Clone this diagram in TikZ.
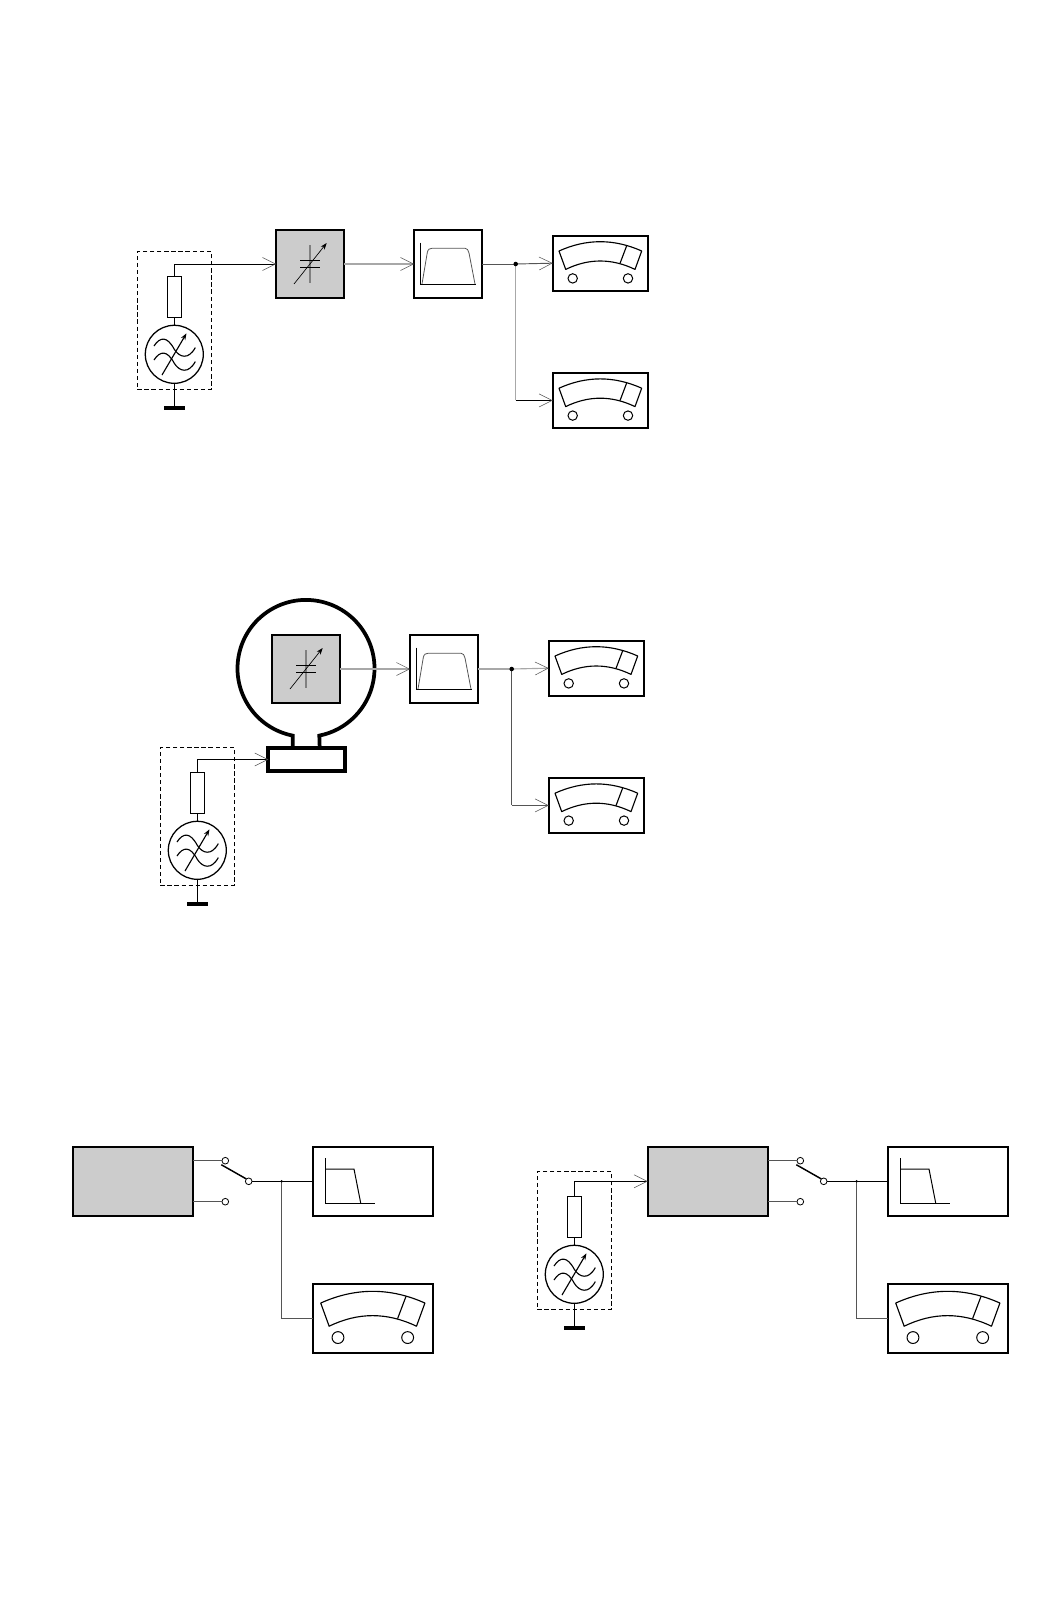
\documentclass[tikz,border=0pt]{standalone}
\usetikzlibrary{arrows.meta}
\definecolor{boxgray}{HTML}{CCCCCC}
\definecolor{lightwire}{HTML}{A8A8A8}
\definecolor{darkwire}{HTML}{555555}
\tikzset{
  wire/.style={line width=0.75pt,black},
  lwire/.style={line width=0.85pt,lightwire},
  dwire/.style={line width=0.7pt,darkwire},
  openarrow/.style={-{Straight Barb[length=9.75pt,width=9.75pt,line width=0.4pt,color=darkwire]}},
  heavybox/.style={draw,line width=1.4pt,inner sep=0pt,outer sep=0pt},
  symbol/.style={line width=0.85pt},
  symthin/.style={line width=0.6pt,darkwire},
  genbox/.style={draw,dashed,dash pattern=on 3.2pt off 2.1pt,line width=0.7pt,inner sep=0pt,outer sep=0pt,minimum width=55.5pt,minimum height=103.2pt},
  resbox/.style={draw,line width=0.7pt,inner sep=0pt,outer sep=0pt,minimum width=10pt,minimum height=30.8pt},
  gencirc/.style={draw,circle,line width=0.95pt,inner sep=0pt,outer sep=0pt,minimum size=43.5pt},
  groundbar/.style={fill=black,inner sep=0pt,outer sep=0pt,minimum width=15.8pt,minimum height=3pt},
  junction/.style={fill=black,circle,inner sep=0pt,outer sep=0pt,minimum size=3.4pt},
  tinyjunction/.style={fill=black,circle,inner sep=0pt,outer sep=0pt,minimum size=2pt},
  terminal/.style={draw,circle,fill=white,line width=0.6pt,inner sep=0pt,outer sep=0pt,minimum size=5pt},
  smalltip/.style={-{Stealth[length=5pt,width=3.6pt]}}
}
% source: #1 x of the wire, #2 y of the wire, #3 name
\newcommand\sourceunit[3]{
  \begin{scope}[shift={(#1,#2)}]
    \node[genbox] (#3frame) at (0,56.2) {};
    \node[resbox] (#3res) at (0,32.5) {};
    \node[gencirc] (#3gen) at (0,90) {};
    \node[groundbar] (#3gnd) at (0,144) {};
    \draw[wire] (#3res.south) -- (#3gen.north);
    \draw[wire] (#3gen.south) -- (#3gnd.north);
    \begin{scope}[shift={(0,90)}]
      \draw[symbol] (-20.3,-8.3) .. controls (-14,-18) and (-7,-18) .. (0,-5) .. controls (5,3) and (14,6) .. (21,-6.7);
      \draw[symbol] (-20.3,5.7) .. controls (-14,-4) and (-7,-4) .. (0,9) .. controls (5,17) and (14,20) .. (21,7.3);
      \draw[symbol,smalltip] (-12.3,20.7) -- (12.2,-21);
    \end{scope}
  \end{scope}
}
% varactor box: #1,#2 centre, #3 name
\newcommand\varbox[3]{
  \node[heavybox,fill=boxgray,minimum size=51pt] (#3) at (#1,#2) {};
  \begin{scope}[shift={(#1,#2)}]
    \draw[line width=0.8pt,color=gray] (0,-19) -- (0,18.7);
    \draw[line width=0.7pt] (-10,-3.7) -- (10,-3.7);
    \draw[line width=0.7pt] (-10,3.3) -- (10,3.3);
    \draw[line width=0.5pt,smalltip] (-16,20) -- (16.7,-21);
  \end{scope}
}
% band-pass box
\newcommand\bpbox[3]{
  \node[heavybox,minimum size=51pt] (#3) at (#1,#2) {};
  \begin{scope}[shift={(#1,#2)}]
    \draw[line width=0.75pt] (-27.3,-21.3) -- (-27.3,20.3) -- (27.7,20.3);
    \draw[symthin] (-26,20) -- (-20.7,-11.5) .. controls (-20,-15) and (-18,-15.7) .. (-16,-15.7) -- (17,-15.7) .. controls (19,-15.7) and (20.5,-14) .. (21,-11) -- (27,20);
  \end{scope}
}
% low-pass box
\newcommand\lpbox[3]{
  \node[heavybox,minimum width=90.5pt,minimum height=51.8pt] (#3) at (#1,#2) {};
  \begin{scope}[shift={(#1,#2)}]
    \draw[line width=0.75pt] (-47.3,-23) -- (-47.3,21.7) -- (2,21.7);
    \draw[line width=0.75pt] (-47.3,-12.3) -- (-19,-12.3) -- (-12.3,21.7);
  \end{scope}
}
% meter: #1,#2 centre, #3 scale, #4 name, #5 width pt, #6 height pt
\newcommand\meterbox[6]{
  \node[heavybox,minimum width=#5pt,minimum height=#6pt] (#4) at (#1,#2) {};
  \begin{scope}[shift={(#1,#2)},scale=#3]
    \begin{scope}[shift={(-47.8,-27.5)}]
      \draw[line width=0.85pt,line join=round] (6.3,15.3) .. controls (33.8,2.9) and (61.3,2.9) .. (89,15.3) -- (82.3,33.7) .. controls (59,22.5) and (36,22.5) .. (13,33.7) -- cycle;
      \draw[line width=0.85pt] (74,10) -- (67.3,27.7);
      \draw[line width=0.75pt] (20,42.7) circle (4.7);
      \draw[line width=0.75pt] (75.3,42.7) circle (4.7);
    \end{scope}
  \end{scope}
}
% switch: #1 x of box edge offset, #2 name
\newcommand\switchset[2]{
  \begin{scope}[xshift=#1*0.75pt]
    \node[heavybox,fill=boxgray,minimum width=90.5pt,minimum height=51.8pt] (#2box) at (133,1181.3) {};
    \node[terminal] (#2t) at (225.3,1160.7) {};
    \node[terminal] (#2b) at (225.3,1201.7) {};
    \node[terminal] (#2c) at (248.7,1181.3) {};
    \coordinate (#2blade) at (221.3,1164.7);
    \coordinate (#2j) at (281.7,1181.3);
    \lpbox{373}{1181.3}{#2lp}
    \meterbox{373}{1318.4}{1.26}{#2m}{90.5}{51.5}
    \coordinate (#2cwa) at (#2box.east |- #2t);
    \coordinate (#2cwb) at (#2box.east |- #2b);
    \draw[dwire] (#2cwa) -- (#2t.west);
    \draw[dwire] (#2cwb) -- (#2b.west);
    \draw[line width=1.1pt] (#2blade) -- (#2c.north west);
    \draw[wire] (#2c.east) -- (#2j) -- (#2lp.west);
    \coordinate (#2k) at (#2j |- #2m.west);
    \draw[dwire] (#2j) -- (#2k) -- (#2m.west);
    \node[tinyjunction] (#2jdot) at (#2j) {};
  \end{scope}
}
\begin{document}
\begin{tikzpicture}[x=0.75pt,y=-0.75pt]
\useasboundingbox (0,0) rectangle (1047,1616);
% ---------- row 1
\sourceunit{174.3}{264.3}{sa}
\varbox{310}{264}{va}
\bpbox{448}{264}{fa}
\meterbox{600.5}{263.2}{1}{ma}{71.7}{41.2}
\meterbox{600.5}{400.4}{1}{mb}{71.7}{41.2}
\coordinate (ja) at (515.7,264);
\draw[wire,openarrow] (sares.north) |- (va.west);
\draw[lwire,openarrow] (va.east) -- (fa.west);
\draw[dwire] (fa.east) -- (ja);
\draw[dwire,openarrow] (ja) -- (ma.west);
\coordinate (ka) at (ja |- mb.west);
\draw[lwire] (ja) -- (ka);
\draw[wire,openarrow] (ka) -- (mb.west);
\node[junction] (jadot) at (ja) {};
% ---------- row 2
\node[heavybox,line width=2.8pt,minimum width=57.4pt,minimum height=17.5pt] (rect) at (306.6,759.5) {};
\draw[line width=2.8pt] (292.7,747.8) -- (292.7,735.6) arc[start angle=258.8,end angle=-78.8,radius=51.375pt] -- (319.7,747.8);
\sourceunit{197.3}{760.3}{sb}
\varbox{306}{669}{vb}
\bpbox{444}{669}{fb}
\meterbox{596.5}{668.2}{1}{mc}{71.7}{41.2}
\meterbox{596.5}{805.4}{1}{md}{71.7}{41.2}
\coordinate (jb) at (511.7,669);
\draw[wire,openarrow] (sbres.north) |- (rect.west);
\draw[lwire,openarrow] (vb.east) -- (fb.west);
\draw[lwire] (fb.east) -- (jb);
\draw[lwire,openarrow] (jb) -- (mc.west);
\coordinate (kb) at (jb |- md.west);
\draw[dwire] (jb) -- (kb);
\draw[dwire,openarrow] (kb) -- (md.west);
\node[junction] (jbdot) at (jb) {};
% ---------- row 3
\switchset{0}{p}
\switchset{575}{q}
\sourceunit{574.3}{1184.3}{sc}
\draw[wire,openarrow] (scres.north) |- (qbox.west);
\end{tikzpicture}
\end{document}
